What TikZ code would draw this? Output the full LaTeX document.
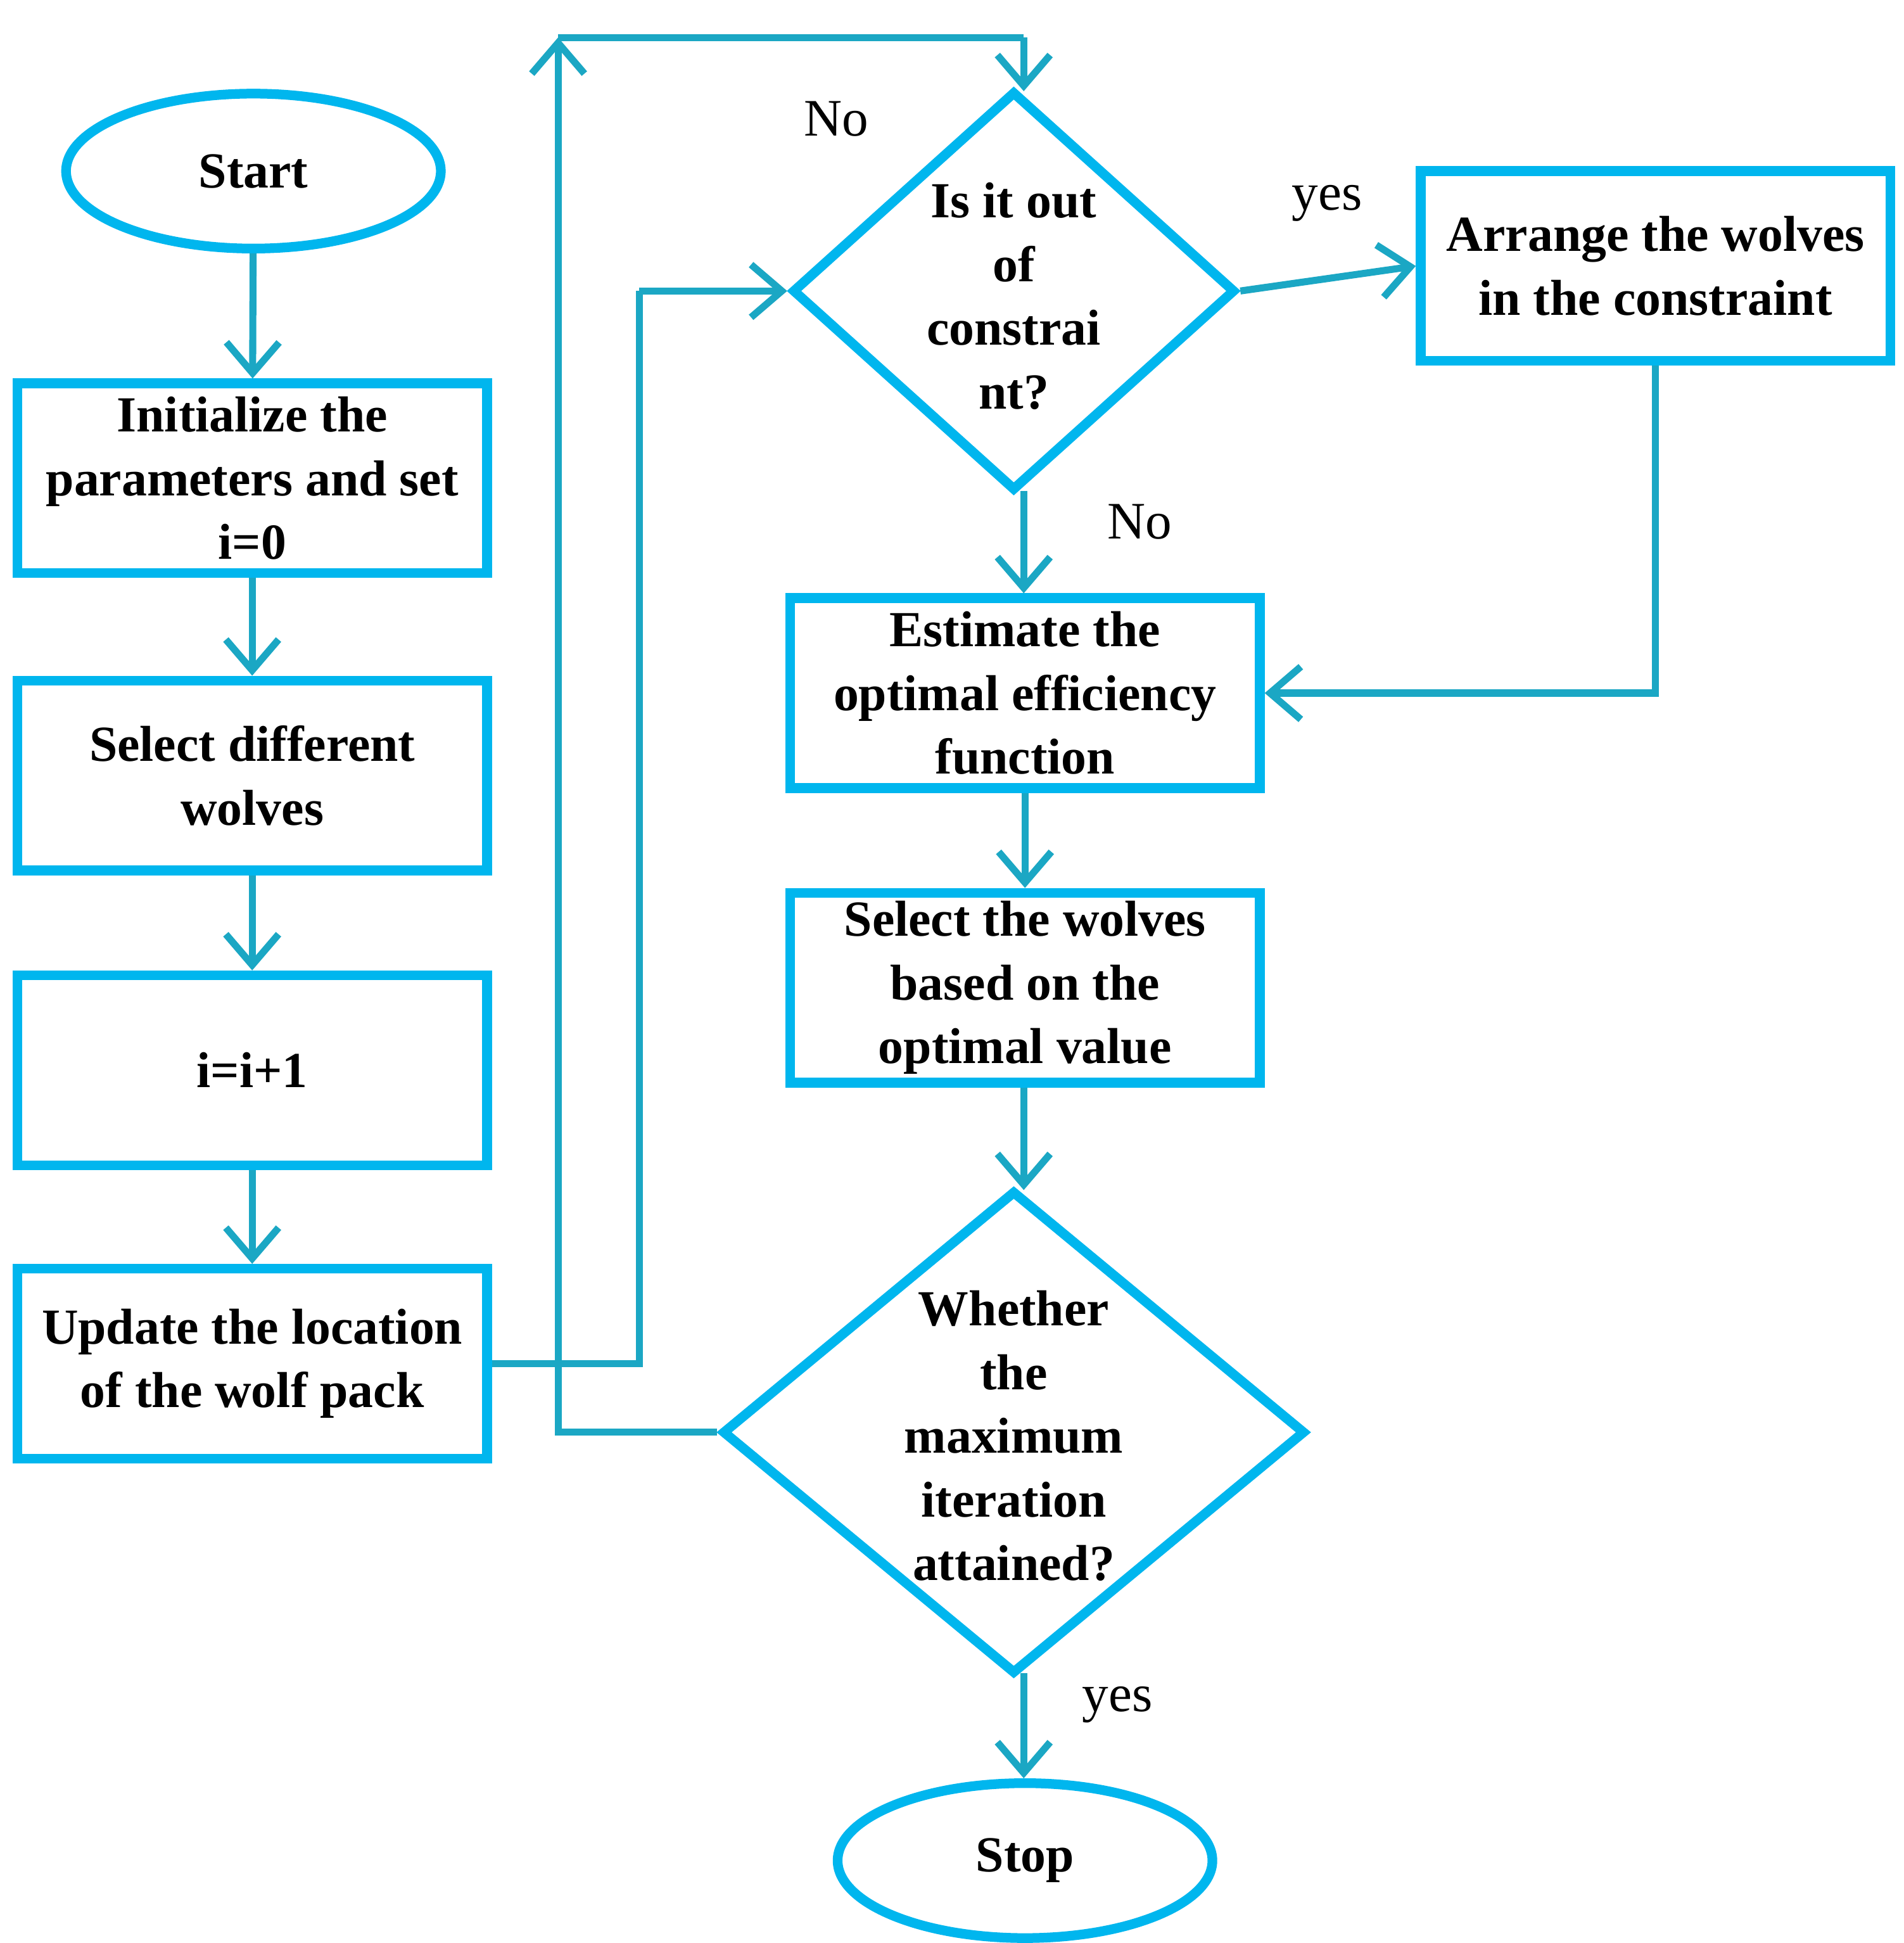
\documentclass[tikz,border=0pt]{standalone}
\usepackage{fontspec}
\setmainfont{Liberation Serif}
\usetikzlibrary{shapes.geometric,arrows.meta}
\definecolor{bx}{HTML}{00B6EE}
\definecolor{ar}{HTML}{1BA7C4}
\begin{document}
\begin{tikzpicture}[x=0.01cm,y=-0.01cm,
  every node/.style={font=\bfseries\fontsize{11.5}{14.5}\selectfont, align=center},
  box/.style={draw=bx, line width=2.2pt, minimum width=3.76cm, minimum height=1.52cm, inner sep=0pt},
  ell/.style={draw=bx, line width=2.2pt, ellipse, minimum width=3cm, minimum height=1.24cm},
  dia/.style={draw=bx, line width=2.2pt, diamond, inner sep=0pt},
  arr/.style={draw=ar, line width=1.6pt, -{Straight Barb[length=7pt,width=12pt]}},
  ln/.style={draw=ar, line width=1.6pt},
  lab/.style={font=\fontsize{12}{14}\selectfont}]
\useasboundingbox (0,0) rectangle (1525,1556);
\node[ell] (start) at (203,137) {Start};
\node[box] (init) at (202,383) {Initialize the\\parameters and set\\i=0};
\node[box] (sel) at (202,621) {Select different\\wolves};
\node[box] (inc) at (202,857) {i=i+1};
\node[box] (upd) at (202,1092) {Update the location\\of the wolf pack};
\node[dia, minimum width=3.55cm, minimum height=3.2cm] (d1) at (812,233) {};
\node at (812,237) {Is it out\\of\\constrai\\nt?};
\node[box] (arr) at (1326,213) {Arrange the wolves\\in the constraint};
\node[box] (est) at (821,555) {Estimate the\\optimal efficiency\\function};
\node[box] (sw) at (821,791) {Select the wolves\\based on the\\optimal value};
\node[dia, minimum width=4.67cm, minimum height=3.87cm] (d2) at (812,1147) {};
\node at (812,1150) {Whether\\the\\maximum\\iteration\\attained?};
\node[ell] (stop) at (821,1490) {Stop};
\node[lab] (l1) at (670,95) {No};
\node[lab] (l2) at (1063,163) {yes};
\node[lab] (l3) at (913,418) {No};
\node[lab] (l4) at (895,1365) {yes};
\coordinate (c1) at (512,1092);
\coordinate (c2) at (512,233);
\coordinate (tl) at (447,30);
\coordinate (tr) at (820,30);
\draw[arr] (start) -- (init);
\draw[arr] (init) -- (sel);
\draw[arr] (sel) -- (inc);
\draw[arr] (inc) -- (upd);
\draw[ln] (upd.east) -- (c1) -- (c2);
\draw[arr] (c2) -- (d1.west);
\draw[arr] (d2.west) -| (tl);
\draw[ln] (tl) -- (tr);
\draw[arr] (tr) -- (820,73);
\draw[arr] (d1.east) -- (arr.west);
\draw[arr] (arr.south) |- (est.east);
\draw[arr] (820,393) -- (est.north -| 820,0);
\draw[arr] (est) -- (sw);
\draw[arr] (sw.south -| 820,0) -- (820,953);
\draw[arr] (820,1340) -- (stop.north -| 820,0);
\end{tikzpicture}
\end{document}
